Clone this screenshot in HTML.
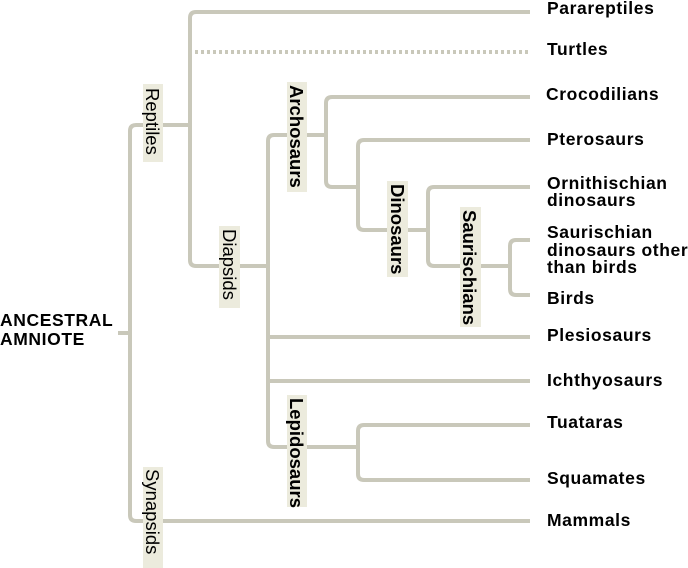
<!DOCTYPE html>
<html><head><style>
html,body{margin:0;padding:0;background:#fff;}
svg{display:block;}
text{font-family:"Liberation Sans",Arial,sans-serif;}
.t{font-weight:bold;font-size:17.5px;letter-spacing:0.6px;fill:#000;}
.v{font-size:18.5px;fill:#000;}
.vb{font-size:18.5px;font-weight:bold;fill:#000;}
</style></head><body>
<svg width="688" height="568" viewBox="0 0 688 568" xmlns="http://www.w3.org/2000/svg">
<g fill="none" stroke="#c9c8ba" stroke-width="4" stroke-linejoin="round">
<path d="M118 333 H130"/>
<path d="M190 125 H136 Q130 125 130 131 V515 Q130 521 136 521 H530"/>
<path d="M530 12 H196 Q190 12 190 18 V260 Q190 266 196 266 H268"/>
<path d="M195 52 H530" stroke-dasharray="3 3"/>
<path d="M326 135 H274 Q268 135 268 141 V441 Q268 447 274 447 H358"/>
<path d="M268 337 H530 M268 381 H530"/>
<path d="M530 97 H332 Q326 97 326 103 V181 Q326 187 332 187 H358"/>
<path d="M530 140 H364 Q358 140 358 146 V224 Q358 230 364 230 H428"/>
<path d="M530 187 H434 Q428 187 428 193 V260 Q428 266 434 266 H510"/>
<path d="M530 240 H516 Q510 240 510 246 V289 Q510 295 516 295 H530"/>
<path d="M530 425 H364 Q358 425 358 431 V474 Q358 480 364 480 H530"/>
</g>
<g fill="#ecebdd">
<rect x="143" y="84" width="20" height="78"/>
<rect x="219" y="226" width="21" height="82"/>
<rect x="287" y="82" width="20" height="110"/>
<rect x="387" y="181" width="21" height="96"/>
<rect x="460" y="207" width="21" height="120"/>
<rect x="287" y="395" width="20" height="112"/>
<rect x="143" y="467" width="20" height="101"/>
</g>
<text class="v" transform="translate(146,88) rotate(90)">Reptiles</text>
<text class="v" transform="translate(223,229) rotate(90)">Diapsids</text>
<text class="vb" transform="translate(290,85) rotate(90)">Archosaurs</text>
<text class="vb" transform="translate(391,184) rotate(90)">Dinosaurs</text>
<text class="vb" transform="translate(463,210) rotate(90)">Saurischians</text>
<text class="vb" transform="translate(290,398) rotate(90)">Lepidosaurs</text>
<text class="v" transform="translate(146,469) rotate(90)">Synapsids</text>
<text class="t" x="547" y="14">Parareptiles</text>
<text class="t" x="547" y="55">Turtles</text>
<text class="t" x="546" y="100">Crocodilians</text>
<text class="t" x="547" y="145">Pterosaurs</text>
<text class="t" x="547" y="189">Ornithischian</text>
<text class="t" x="547" y="206">dinosaurs</text>
<text class="t" x="547" y="238">Saurischian</text>
<text class="t" x="547" y="256">dinosaurs other</text>
<text class="t" x="547" y="273">than birds</text>
<text class="t" x="547" y="304">Birds</text>
<text class="t" x="547" y="341">Plesiosaurs</text>
<text class="t" x="547" y="386">Ichthyosaurs</text>
<text class="t" x="547" y="428">Tuataras</text>
<text class="t" x="547" y="484">Squamates</text>
<text class="t" x="547" y="526">Mammals</text>
<text class="t" x="0" y="326">ANCESTRAL</text>
<text class="t" x="0" y="345">AMNIOTE</text>
</svg>
</body></html>
